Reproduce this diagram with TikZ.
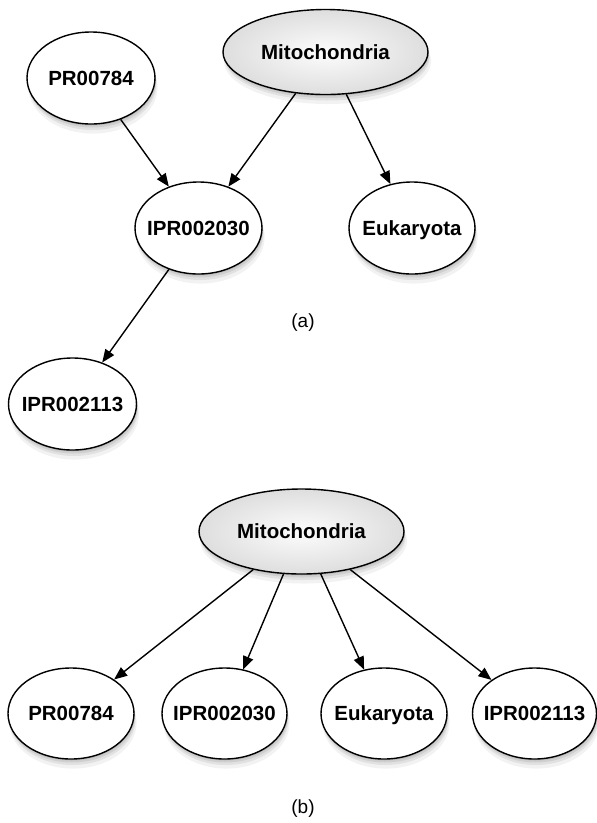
\documentclass[tikz,border=0pt]{standalone}
\usepackage{fontspec}
\setmainfont{Liberation Sans}
\usetikzlibrary{shapes.geometric,arrows.meta,shadows}
\tikzset{
  softshadow/.style={
    general shadow={fill=black, opacity=0.09, shadow xshift=0.5pt, shadow yshift=-1.5pt},
    general shadow={fill=black, opacity=0.08, shadow xshift=1pt, shadow yshift=-3.5pt},
    general shadow={fill=black, opacity=0.07, shadow xshift=1.5pt, shadow yshift=-6pt},
    general shadow={fill=black, opacity=0.05, shadow xshift=2pt, shadow yshift=-9pt, shadow scale=1.01}
  },
  ent/.style={ellipse, draw=black, line width=1.4pt, fill=white,
    minimum width=127pt, minimum height=92pt, inner sep=0pt, inner xsep=-20pt,
    font=\fontsize{20.5}{24}\selectfont\bfseries, text height=14.7pt, text depth=0pt,
    softshadow},
  rootent/.style={ent, minimum width=205pt, minimum height=85pt,
    inner color=black!1, outer color=black!13},
  arr/.style={line width=1.4pt, -{Triangle[length=13pt,width=10.5pt]}},
  caption/.style={font=\fontsize{19}{22}\selectfont, inner sep=0pt}
}
\begin{document}
\begin{tikzpicture}[x=1pt, y=-1pt]
\useasboundingbox (0,0) rectangle (597,823);
% (a)
\node[rootent] (m1) at (325.5,52) {Mitochondria};
\node[ent, minimum width=128pt] (p1) at (91,78) {PR00784};
\node[ent] (i1) at (198.5,228) {IPR002030};
\node[ent, minimum width=126pt] (e1) at (412,228) {Eukaryota};
\node[ent, minimum width=128pt] (i2) at (72.5,404) {IPR002113};
\node[caption] (capa) at (303,323) {(a)};
\draw[arr] (p1) -- (i1);
\draw[arr] (m1) -- (i1);
\draw[arr] (m1) -- (e1);
\draw[arr] (i1) -- (i2);
% (b)
\node[rootent] (m2) at (301.5,531.5) {Mitochondria};
\node[ent, minimum width=126pt, minimum height=91pt] (p2) at (71,713.5) {PR00784};
\node[ent, minimum width=125pt, minimum height=91pt] (i3) at (224.5,713.5) {IPR002030};
\node[ent, minimum width=126pt, minimum height=91pt] (e2) at (384,713.5) {Eukaryota};
\node[ent, minimum width=124pt, minimum height=91pt] (i4) at (534.5,713.5) {IPR002113};
\node[caption] (capb) at (303,809) {(b)};
\draw[arr] (m2) -- (p2);
\draw[arr] (m2) -- (i3);
\draw[arr] (m2) -- (e2);
\draw[arr] (m2) -- (i4);
\end{tikzpicture}
\end{document}
